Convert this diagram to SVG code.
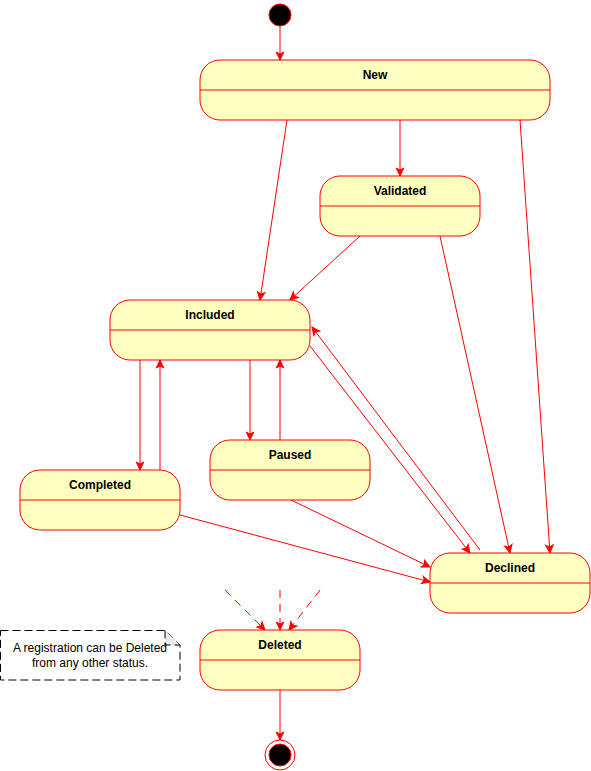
<svg xmlns="http://www.w3.org/2000/svg" width="591" height="771" viewBox="0 0 591 771">
<defs>
<style>
.st{fill:#FFFFC0;stroke:#FF0000;stroke-width:1}
.dv{stroke:#FF0000;stroke-width:1}
.lbl{font-family:"Liberation Sans",Arial,sans-serif;font-size:12px;font-weight:bold;fill:#000;text-anchor:middle}
.note{font-family:"Liberation Sans",Arial,sans-serif;font-size:12px;fill:#000;text-anchor:middle}
.e{fill:none;stroke:#FF0000;stroke-width:1;marker-end:url(#ah)}
.d{stroke-dasharray:8 6}
</style>
<marker id="ah" markerUnits="userSpaceOnUse" markerWidth="10" markerHeight="10" viewBox="0 0 10 10" refX="9" refY="5" orient="auto">
<path d="M1,1.2 L9,5 L1,8.8 L3,5 Z" fill="#FF0000" stroke="#FF0000" stroke-width="1"/>
</marker>
</defs>
<rect width="591" height="771" fill="#FFFFFF"/>
<g id="connectors">
<line class="e" x1="280" y1="26" x2="280" y2="60"/>
<line class="e" x1="287" y1="120" x2="260" y2="300"/>
<line class="e" x1="400" y1="120" x2="400" y2="176"/>
<line class="e" x1="520" y1="120" x2="550" y2="553"/>
<line class="e" x1="360" y1="236" x2="290" y2="300"/>
<line class="e" x1="440" y1="236" x2="510" y2="553"/>
<line class="e" x1="140" y1="360" x2="140" y2="470"/>
<line class="e" x1="160" y1="470" x2="160" y2="360"/>
<line class="e" x1="250" y1="360" x2="250" y2="440"/>
<line class="e" x1="280" y1="440" x2="280" y2="360"/>
<line class="e" x1="310" y1="346" x2="470" y2="553"/>
<line class="e" x1="480" y1="550" x2="312" y2="327"/>
<line class="e" x1="291" y1="500" x2="430" y2="567"/>
<line class="e" x1="180" y1="515" x2="430" y2="582"/>
<line class="e d" x1="225" y1="590" x2="265" y2="630"/>
<line class="e d" x1="280" y1="590" x2="280" y2="630"/>
<line class="e d" x1="320" y1="590" x2="289" y2="630"/>
<line class="e" x1="280" y1="690" x2="280" y2="740"/>
</g>
<g id="start">
<circle cx="280" cy="15" r="11" fill="#000000" stroke="#FF0000" stroke-width="1"/>
</g>
<g id="new">
<rect class="st" x="200" y="60" width="350" height="60" rx="20" ry="20"/>
<line class="dv" x1="200" y1="90" x2="550" y2="90"/>
<text class="lbl" x="375" y="79">New</text>
</g>
<g id="validated">
<rect class="st" x="320" y="176" width="160" height="60" rx="20" ry="20"/>
<line class="dv" x1="320" y1="206" x2="480" y2="206"/>
<text class="lbl" x="400" y="195">Validated</text>
</g>
<g id="included">
<rect class="st" x="110" y="300" width="200" height="60" rx="20" ry="20"/>
<line class="dv" x1="110" y1="330" x2="310" y2="330"/>
<text class="lbl" x="210" y="319">Included</text>
</g>
<g id="paused">
<rect class="st" x="210" y="440" width="160" height="60" rx="20" ry="20"/>
<line class="dv" x1="210" y1="470" x2="370" y2="470"/>
<text class="lbl" x="290" y="459">Paused</text>
</g>
<g id="completed">
<rect class="st" x="20" y="470" width="160" height="60" rx="20" ry="20"/>
<line class="dv" x1="20" y1="500" x2="180" y2="500"/>
<text class="lbl" x="100" y="489">Completed</text>
</g>
<g id="declined">
<rect class="st" x="430" y="553" width="160" height="60" rx="20" ry="20"/>
<line class="dv" x1="430" y1="583" x2="590" y2="583"/>
<text class="lbl" x="510" y="572">Declined</text>
</g>
<g id="deleted">
<rect class="st" x="200" y="630" width="160" height="60" rx="20" ry="20"/>
<line class="dv" x1="200" y1="660" x2="360" y2="660"/>
<text class="lbl" x="280" y="649">Deleted</text>
</g>
<g id="end">
<circle cx="280" cy="755" r="15" fill="#FFFFFF" stroke="#FF0000" stroke-width="1"/>
<circle cx="280" cy="755" r="11" fill="#000000" stroke="#FF0000" stroke-width="1"/>
</g>
<g id="note">
<path d="M0.5,630.5 L165,630.5 L180,645 L180,680 L0.5,680 Z" fill="#FFFFFF" stroke="#000000" stroke-width="1" stroke-dasharray="8 4"/>
<path d="M165,630.5 L165,645 L180,645 Z" fill="#EBEBEB" stroke="none"/>
<path d="M165,630.5 L165,645 L180,645" fill="none" stroke="#000000" stroke-width="1" stroke-dasharray="8 4"/>
<text class="note" x="90" y="652">A registration can be Deleted</text>
<text class="note" x="90" y="667">from any other status.</text>
</g>
</svg>
